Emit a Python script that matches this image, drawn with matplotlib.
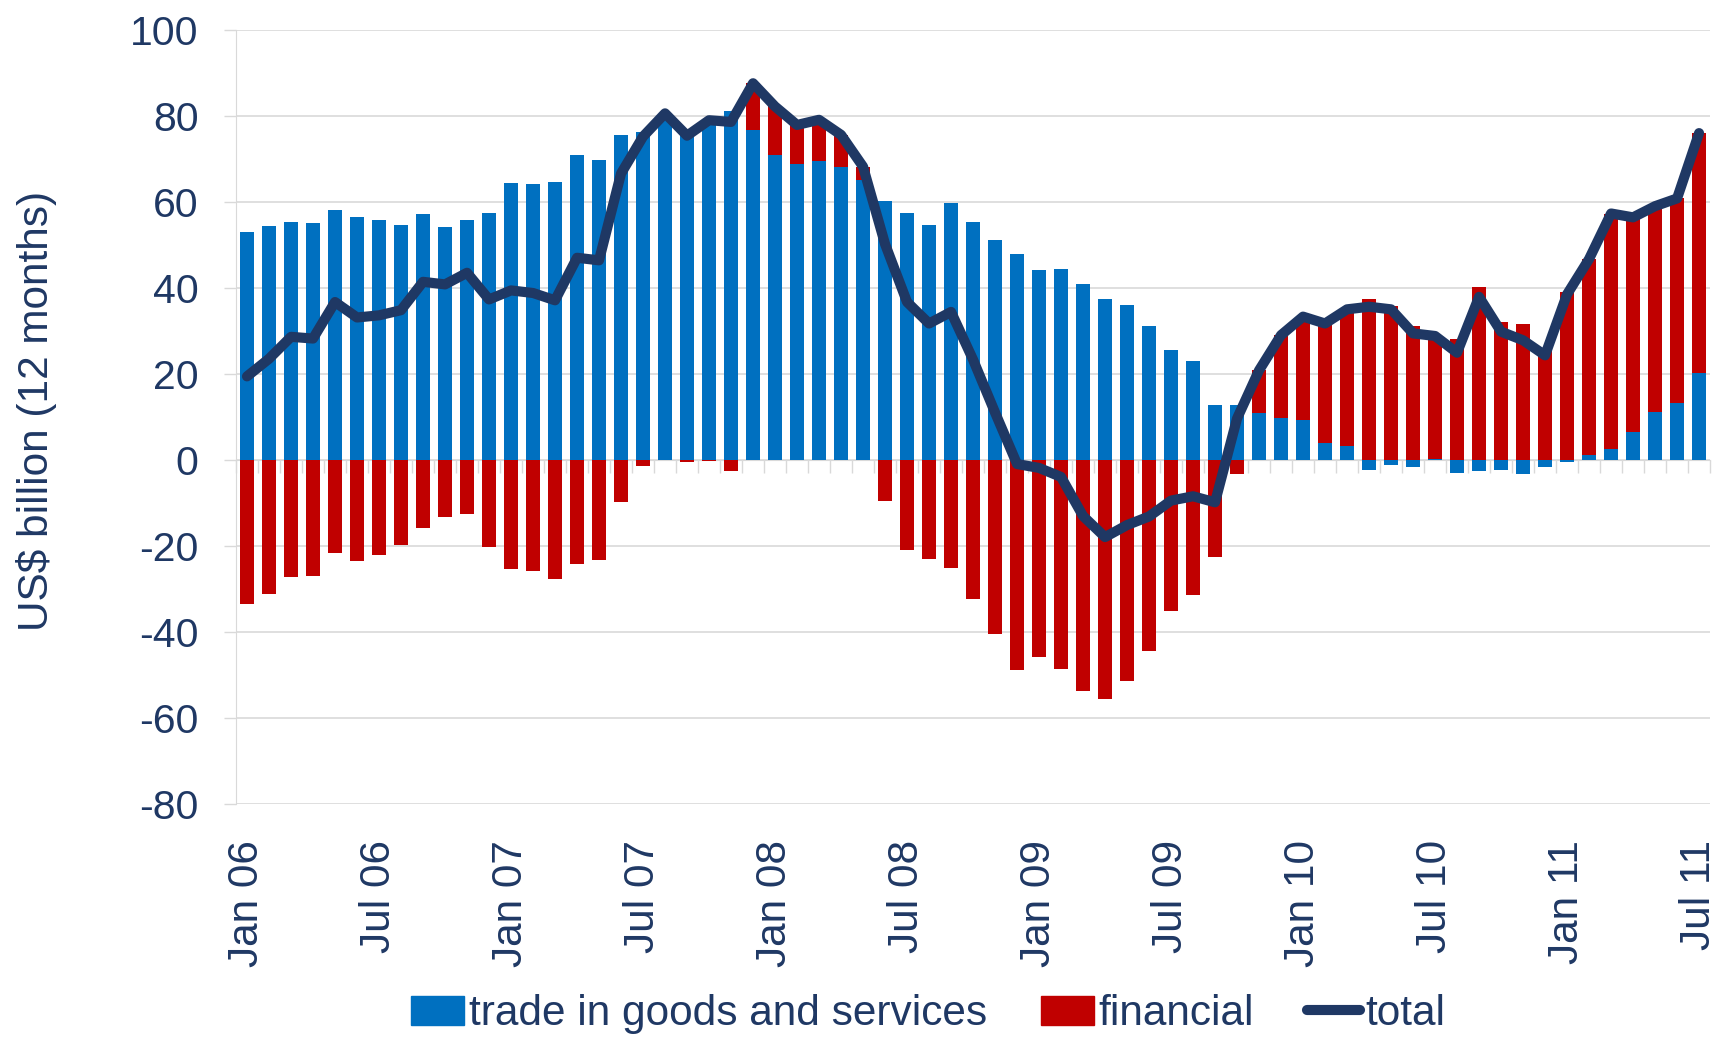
import numpy as np
import matplotlib
matplotlib.use("Agg")
import matplotlib.pyplot as plt
from matplotlib.patches import Patch
from matplotlib.lines import Line2D

plt.rcParams['font.family'] = ['Liberation Sans', 'DejaVu Sans']
plt.rcParams['axes.unicode_minus'] = False

# monthly, Jan 06 .. Jul 11 (US$ billion, 12-month sums)
months = ['Jan', 'Feb', 'Mar', 'Apr', 'May', 'Jun', 'Jul', 'Aug', 'Sep', 'Oct', 'Nov', 'Dec']
years = ['06', '07', '08', '09', '10', '11']
periods = [m + ' ' + y for y in years for m in months][:67]

trade = [52.9, 54.3, 55.3, 55.0, 58.2, 56.4, 55.7, 54.6, 57.1, 54.1, 55.9, 57.5,
         64.4, 64.2, 64.6, 71.0, 69.7, 75.6, 76.3, 79.6, 76.0, 79.3, 81.2, 76.8,
         70.9, 68.8, 69.6, 68.2, 65.2, 60.3, 57.5, 54.7, 59.7, 55.4, 51.2, 47.8,
         44.2, 44.4, 40.8, 37.3, 36.0, 31.2, 25.6, 22.9, 12.7, 12.7, 10.9, 9.8,
         9.2, 4.0, 3.3, -2.3, -1.2, -1.8, 0.2, -3.0, -2.7, -2.4, -3.3, -1.7,
         -0.5, 1.2, 2.6, 6.4, 11.1, 13.2, 20.3]

financial = [-33.6, -31.2, -27.2, -27.0, -21.7, -23.5, -22.1, -19.8, -15.9, -13.4, -12.6, -20.4,
             -25.5, -26.0, -27.7, -24.2, -23.3, -9.9, -1.5, 0.6, -0.6, -0.3, -2.7, 10.8,
             11.3, 9.1, 9.5, 7.4, 3.0, -9.6, -21.0, -23.1, -25.3, -32.4, -40.6, -49.0,
             -46.0, -48.6, -53.9, -55.7, -51.4, -44.6, -35.3, -31.5, -22.7, -3.3, 9.9, 19.2,
             24.1, 27.7, 31.7, 37.4, 35.8, 31.1, 27.8, 28.0, 40.2, 32.1, 31.5, 25.8,
             39.0, 45.5, 54.5, 50.0, 47.9, 47.6, 55.7]

total = [19.4, 23.5, 28.6, 28.2, 36.7, 33.1, 33.6, 34.8, 41.4, 40.8, 43.5, 37.3,
         39.4, 38.8, 37.1, 47.0, 46.4, 66.6, 75.2, 80.6, 75.4, 79.0, 78.6, 87.6,
         82.2, 77.9, 79.1, 75.6, 68.2, 50.2, 36.7, 31.7, 34.4, 23.3, 11.0, -1.0,
         -1.9, -4.0, -13.1, -18.0, -15.2, -13.2, -9.5, -8.5, -9.9, 9.6, 20.8, 29.0,
         33.3, 31.7, 35.0, 35.6, 35.0, 29.4, 28.8, 24.9, 37.9, 29.8, 27.8, 24.3,
         38.5, 46.7, 57.3, 56.4, 59.0, 60.8, 76.0]

blue = '#0070C0'
red = '#C00000'
navy = '#1F3864'
grey = '#D9D9D9'
fs = 30.5

x = np.arange(len(periods))
tr = np.array(trade)
fin = np.array(financial)
# excel-style stacking: positives go up, negatives go down
fin_bottom = np.where(fin >= 0, np.maximum(tr, 0), np.minimum(tr, 0))

fig = plt.figure(figsize=(17.19, 10.37), dpi=100)
ax = fig.add_axes([0.1373, 0.2251, 0.8575, 0.7460])

ax.bar(x, tr, width=0.64, color=blue, zorder=1)
ax.bar(x, fin, width=0.64, bottom=fin_bottom, color=red, zorder=1)
ax.plot(x, total, color=navy, lw=7.3, solid_joinstyle='round',
        solid_capstyle='round', zorder=3)

ax.set_xlim(-0.5, len(periods) - 0.5)
ax.set_ylim(-80, 100)
ax.set_yticks(np.arange(-80, 101, 20))
ax.yaxis.grid(True, color=grey, lw=1.2)
ax.set_axisbelow(True)
ax.tick_params(axis='y', direction='out', length=9, width=1, color=grey,
               labelsize=29.5, labelcolor=navy, pad=18)

for s in ['top', 'right']:
    ax.spines[s].set_visible(False)
ax.spines['left'].set_color(grey)
ax.spines['bottom'].set_position(('data', 0))
ax.spines['bottom'].set_color(grey)
ax.spines['bottom'].set_zorder(0.5)

# category tick marks along the zero line
ax.set_xticks([])
ax.set_xticks(np.arange(-0.5, len(periods), 1), minor=True)
ax.tick_params(axis='x', which='minor', direction='out', length=9, width=1,
               color=grey, labelbottom=False)

# date labels at the bottom
sec = ax.secondary_xaxis('bottom')
lab_pos = x[::6]
sec.set_xticks(lab_pos, [periods[i] for i in lab_pos])
sec.tick_params(length=0, pad=26, labelsize=fs, labelcolor=navy, labelrotation=90)
sec.spines['bottom'].set_visible(False)

fig.text(37 / 1719, 0.6037, 'US$ billion (12 months)', rotation=90,
         ha='center', va='center', fontsize=fs, color=navy)

handles = [Patch(color=blue), Patch(color=red),
           Line2D([], [], color=navy, lw=7.3, solid_capstyle='round')]
leg = fig.legend(handles, ['trade in goods and services', 'financial', 'total'],
                 loc='center', bbox_to_anchor=(0.54, 0.022), ncol=3, frameon=False,
                 fontsize=fs, handlelength=1.25, handletextpad=0.12,
                 columnspacing=1.25, borderaxespad=0, borderpad=0)
for t in leg.get_texts():
    t.set_color(navy)

fig.savefig('out.png', dpi=100)
